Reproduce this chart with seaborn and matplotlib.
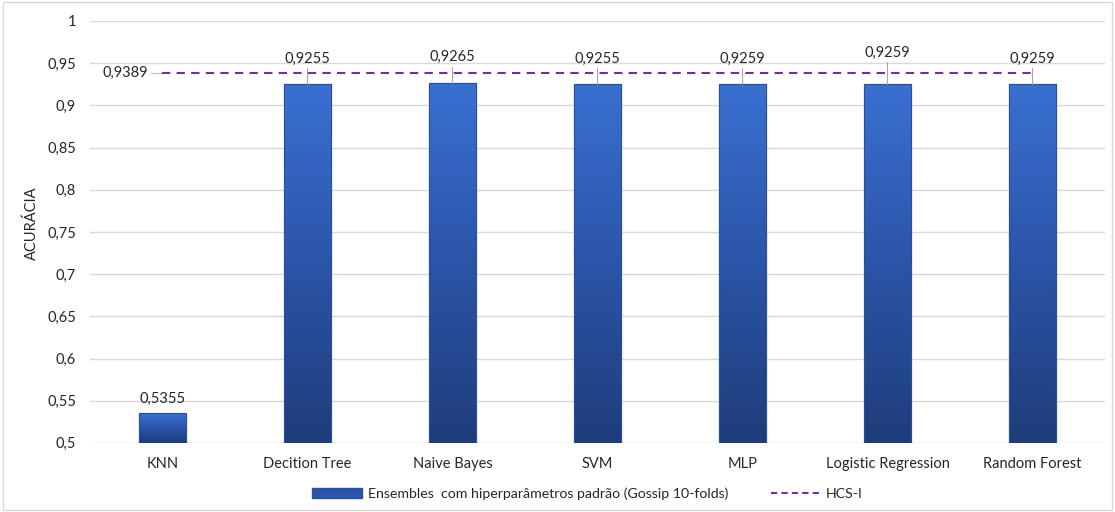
import numpy as np
import pandas as pd
import matplotlib
matplotlib.use("Agg")
import matplotlib.pyplot as plt
from matplotlib.colors import LinearSegmentedColormap
from matplotlib.lines import Line2D
from matplotlib.patches import Patch, Rectangle
import seaborn as sns

modelos = ["KNN", "Decition Tree", "Naive Bayes", "SVM", "MLP",
           "Logistic Regression", "Random Forest"]
acuracia = [0.5355, 0.9255, 0.9265, 0.9255, 0.9259, 0.9259, 0.9259]
rotulos = ["0,5355", "0,9255", "0,9265", "0,9255", "0,9259", "0,9259", "0,9259"]
hcs_valor = 0.9389
hcs_rotulo = "0,9389"

sns.set_theme(style="white")
plt.rcParams['font.family'] = ['Lato', 'DejaVu Sans']

df = pd.DataFrame({"modelo": modelos, "acuracia": acuracia})

fig = plt.figure(figsize=(11.15, 5.12), dpi=100)
ax = fig.add_axes([0.0807, 0.135, 0.9103, 0.824])

sns.barplot(data=df, x="modelo", y="acuracia", ax=ax, width=0.32,
            color="#2F5BB5", edgecolor="#2A4F9A", linewidth=0.8, zorder=3)
ax.set_ylim(0.5, 1.0)
ax.set_xlim(-0.5, len(modelos) - 0.5)

# gradiente nas barras
cmap = LinearSegmentedColormap.from_list("azul", ["#1F3D7A", "#2B55A8", "#3A70D2"])
grad = np.linspace(0, 1, 256).reshape(-1, 1)
for p in ax.patches:
    x0, y0 = p.get_x(), p.get_y()
    w, h = p.get_width(), p.get_height()
    im = ax.imshow(grad, cmap=cmap, aspect="auto", origin="lower",
                   extent=[x0, x0 + w, 0.5, y0 + h], zorder=3.5)
    im.set_clip_path(p)
    ax.add_patch(Rectangle((x0, 0.5), w, y0 + h - 0.5, fill=False,
                           edgecolor="#2A4F9A", linewidth=0.8, zorder=4))

# linha HCS-I
ax.plot([0, len(modelos) - 1], [hcs_valor, hcs_valor], color="#7030A0",
        linestyle=(0, (4, 3)), linewidth=1.5, zorder=5)
ax.text(-0.1, hcs_valor, hcs_rotulo, ha="right", va="center", fontsize=10.5,
        color="#262626", zorder=6)
ax.plot([-0.08, 0], [hcs_valor, hcs_valor], color="#BFBFBF", linewidth=0.8, zorder=4)

# rotulos dos valores
ypos = [None, 0.955, 0.957, 0.955, 0.955, 0.962, 0.955]
for i, (v, r) in enumerate(zip(acuracia, rotulos)):
    if ypos[i] is None:
        ax.text(i, v + 0.008, r, ha="center", va="bottom", fontsize=10.5,
                color="#262626", zorder=6)
    else:
        ax.text(i, ypos[i], r, ha="center", va="center", fontsize=10.5,
                color="#262626", zorder=6)
        ax.plot([i, i], [ypos[i] - 0.011, v], color="#A6A6A6",
                linewidth=0.8, zorder=4)

ax.set_yticks(np.arange(0.5, 1.0001, 0.05))
ax.set_yticklabels([f"{t:.2f}".rstrip("0").rstrip(".").replace(".", ",")
                    for t in np.arange(0.5, 1.0001, 0.05)])
ax.yaxis.grid(True, color="#D9D9D9", linewidth=1, zorder=0)
ax.set_axisbelow(True)
for s in ax.spines.values():
    s.set_visible(False)
ax.tick_params(axis="both", length=0, labelsize=10.5, colors="#262626")
ax.tick_params(axis="x", pad=10)
ax.tick_params(axis="y", pad=10)
ax.set_xlabel("")
ax.set_ylabel("ACURÁCIA", fontsize=10.5, color="#262626", va="center")
ax.yaxis.set_label_coords(-0.057, 0.52)

handles = [Patch(facecolor="#2B55A8", edgecolor="#2A4F9A"),
           Line2D([0], [0], color="#7030A0", linestyle=(0, (3, 2)), linewidth=1.5)]
fig.legend(handles, ["Ensembles  com hiperparâmetros padrão (Gossip 10-folds)", "HCS-I"],
           loc="center", bbox_to_anchor=(0.527, 0.035), ncol=2, frameon=False,
           fontsize=10.2, handlelength=3.5, columnspacing=3, handletextpad=0.4,
           labelcolor="#262626")

fig.add_artist(Rectangle((0.003, 0.003), 0.994, 0.994, transform=fig.transFigure,
                         fill=False, edgecolor="#D9D9D9", linewidth=1))

fig.savefig("out.png", dpi=100)
